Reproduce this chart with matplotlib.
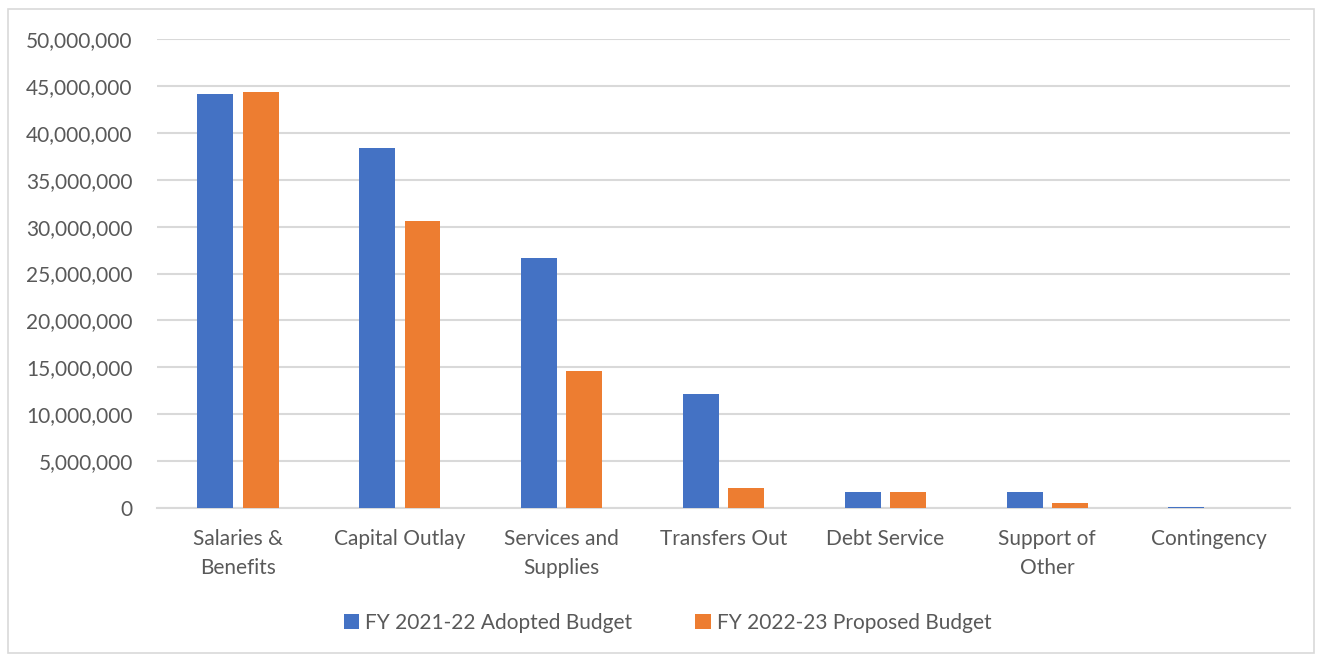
"""plot.py -- budget comparison by expense category (clustered columns)."""

import numpy as np
import matplotlib
matplotlib.use("Agg")
import matplotlib.pyplot as plt
from matplotlib.patches import Rectangle
from matplotlib.ticker import FuncFormatter, MultipleLocator

categories = ["Salaries &\nBenefits", "Capital Outlay", "Services and\nSupplies",
              "Transfers Out", "Debt Service", "Support of\nOther", "Contingency"]
adopted_2122 = [44_100_000, 38_400_000, 26_650_000, 12_150_000, 1_750_000, 1_680_000, 100_000]
proposed_2223 = [44_350_000, 30_650_000, 14_600_000, 2_150_000, 1_680_000, 500_000, 0]
series_labels = ["FY 2021-22 Adopted Budget", "FY 2022-23 Proposed Budget"]

BLUE = "#4472C4"
ORANGE = "#ED7D31"
TEXT = "#595959"
GRID = "#D9D9D9"

plt.rcParams["font.family"] = ["Lato", "DejaVu Sans"]

fig = plt.figure(figsize=(13.22, 6.56), dpi=100)
ax = fig.add_axes([0.1188, 0.2256, 0.8570, 0.7149])

# Outer chart border
fig.patches.append(Rectangle((0.006, 0.004), 0.988, 0.983, transform=fig.transFigure,
                             fill=False, edgecolor=GRID, linewidth=1.2))

x = np.arange(len(categories))
width = 0.222
offset = 0.14
ax.bar(x - offset, adopted_2122, width, color=BLUE, label=series_labels[0], zorder=3)
ax.bar(x + offset, proposed_2223, width, color=ORANGE, label=series_labels[1], zorder=3)

ax.set_xlim(-0.5, len(categories) - 0.5)
ax.set_ylim(0, 50_000_000)
ax.yaxis.set_major_locator(MultipleLocator(5_000_000))
ax.yaxis.set_major_formatter(FuncFormatter(lambda v, _: f"{v:,.0f}"))
ax.grid(axis="y", color=GRID, linewidth=1.5, zorder=0)
ax.set_axisbelow(True)

for side in ["top", "right", "left"]:
    ax.spines[side].set_visible(False)
ax.spines["bottom"].set_color(GRID)
ax.spines["bottom"].set_linewidth(1.5)

ax.set_xticks(x)
ax.set_xticklabels(categories, linespacing=1.6)
ax.tick_params(axis="both", length=0, labelsize=15, labelcolor=TEXT)
ax.tick_params(axis="x", pad=15)
ax.tick_params(axis="y", pad=17.5)

leg = fig.legend(loc="center", bbox_to_anchor=(0.505, 0.051), ncol=2, frameon=False,
                 fontsize=15, handlelength=0.75, handleheight=0.75, handletextpad=0.3,
                 columnspacing=3.0)
for t in leg.get_texts():
    t.set_color(TEXT)

plt.savefig("out.png", dpi=100)
plt.close()
